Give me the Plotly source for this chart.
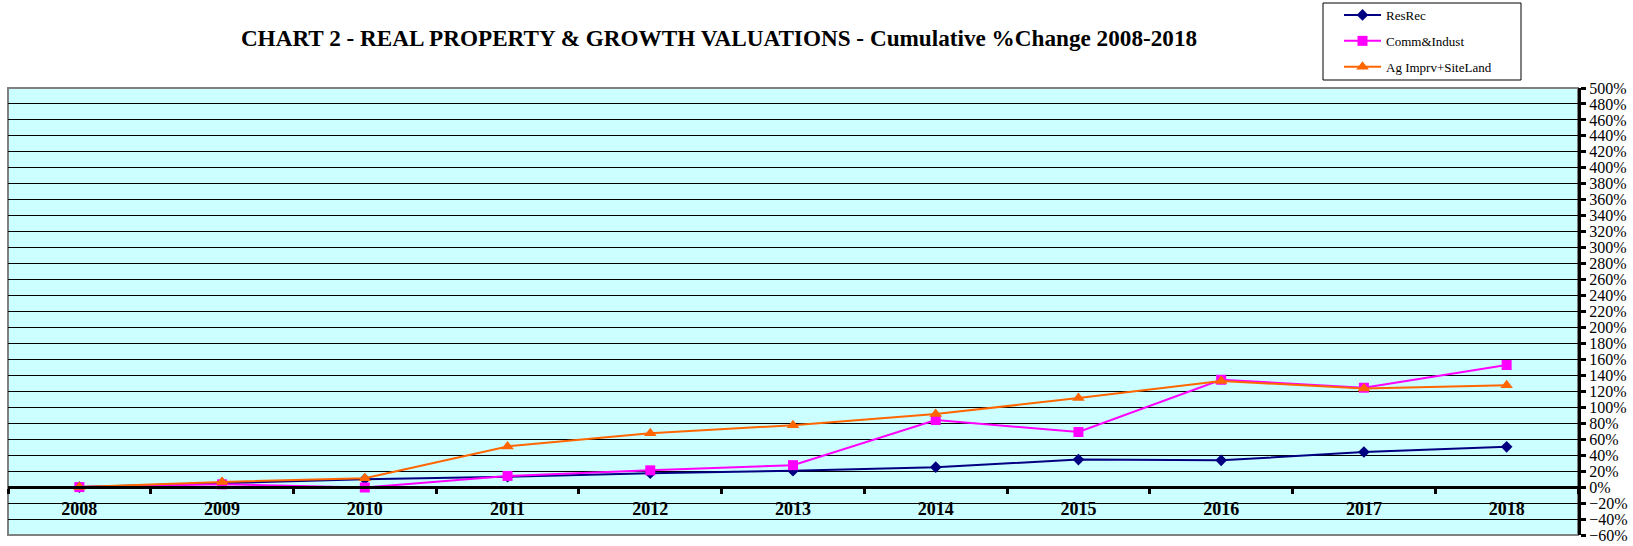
import plotly.graph_objects as go

years = ["2008", "2009", "2010", "2011", "2012", "2013", "2014", "2015", "2016", "2017", "2018"]
res_rec = [0, 5, 10, 13, 17.5, 20.5, 25, 34.5, 33.5, 44, 50.5]
comm_indust = [0, 3.5, -0.5, 14, 21, 27.5, 84, 69, 134.5, 124.5, 153]
ag_imprv = [0, 6.5, 11, 51, 67.5, 77.5, 91.5, 111.5, 133, 123.5, 127.5]

series_names = ["ResRec", "Comm&Indust", "Ag Imprv+SiteLand"]
y_min, y_max, y_step = -60, 500, 20

serif = "Liberation Serif, Times New Roman, serif"

W, H = 1633, 546
L, R, T, B = 8, 55, 88, 11
PW, PH = W - L - R, H - T - B

fig = go.Figure()
styles = [
    (res_rec, "#000080", "diamond", 9),
    (comm_indust, "#FF00FF", "square", 10),
    (ag_imprv, "#FF6600", "triangle-up", 11),
]
for name, (vals, color, sym, size) in zip(series_names, styles):
    fig.add_trace(go.Scatter(
        x=years, y=vals, name=name, mode="lines+markers",
        legendgroup=name,
        line=dict(color=color, width=2),
        marker=dict(color=color, symbol=sym, size=size),
    ))

zero_pos = (0 - y_min) / (y_max - y_min)

def px_x(x):
    return (x - L) / PW

def px_y(y):
    return (H - B - y) / PH

fig.update_layout(
    width=W, height=H,
    margin=dict(l=L, r=R, t=T, b=B, autoexpand=False),
    paper_bgcolor="white",
    plot_bgcolor="#CCFFFF",
    font=dict(family=serif, color="black"),
    title=dict(
        text="CHART 2 - REAL PROPERTY & GROWTH VALUATIONS - Cumulative %Change 2008-2018",
        x=719 / W, xanchor="center", xref="container",
        y=1 - 38 / H, yanchor="middle", yref="container",
        font=dict(family=serif, size=23.2, weight="bold", color="black"),
    ),
    showlegend=True,
    legend=dict(
        x=px_x(1339), xanchor="left",
        y=px_y(0), yanchor="top",
        borderwidth=0,
        bgcolor="rgba(0,0,0,0)",
        font=dict(family=serif, size=13),
        itemwidth=37,
        tracegroupgap=6,
        traceorder="grouped",
    ),
    xaxis=dict(
        type="category",
        range=[-0.5, 10.5],
        anchor="free", position=zero_pos,
        showline=True, linecolor="black", linewidth=3,
        ticks="outside", tickson="boundaries", ticklen=5, tickwidth=3, tickcolor="black",
        showgrid=False, zeroline=False,
        tickfont=dict(family=serif, size=18, weight="bold", color="black"),
        ticklabelstandoff=4,
    ),
    yaxis=dict(
        range=[y_min, y_max], dtick=y_step, side="right",
        ticksuffix="%",
        showline=True, linecolor="black", linewidth=3,
        ticks="outside", ticklen=5, tickwidth=3, tickcolor="black",
        showgrid=True, gridcolor="black", gridwidth=1,
        zeroline=False,
        tickfont=dict(family=serif, size=16, color="black"),
    ),
    shapes=[
        dict(
            type="rect", xref="paper", yref="paper", x0=0, x1=1, y0=0, y1=1,
            line=dict(color="#808080", width=2), layer="below",
        ),
        dict(
            type="rect", xref="paper", yref="paper",
            x0=px_x(1323), x1=px_x(1521), y0=px_y(80), y1=px_y(3),
            line=dict(color="black", width=1), fillcolor="white", layer="below",
        ),
    ],
)

fig.write_html("out.html", config={"displayModeBar": False},
               post_script="document.body.style.margin='0px';")
